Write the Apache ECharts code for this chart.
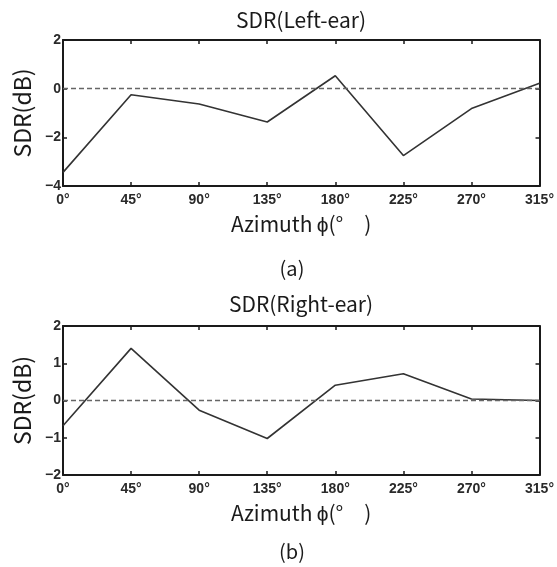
<!DOCTYPE html>
<html>
<head>
<meta charset="utf-8">
<script src="https://cdn.jsdelivr.net/npm/echarts@6/dist/echarts.min.js"></script>
<style>html,body{margin:0;padding:0;background:#fff}#c{width:557px;height:567px}</style>
</head>
<body>
<div id="c"></div>
<script>
var azimuths = [0, 45, 90, 135, 180, 225, 270, 315];
var leftEar = [-3.44, -0.25, -0.63, -1.37, 0.53, -2.75, -0.82, 0.22];
var rightEar = [-0.68, 1.40, -0.26, -1.02, 0.41, 0.72, 0.04, 0.0];
var titles = ['SDR(Left-ear)', 'SDR(Right-ear)'];
var captions = ['(a)', '(b)'];
var xName = 'Azimuth\u2009\u03d5(\u00b0\u2002\u2002)';
var yName = 'SDR(dB)';

var tickFont = 'Liberation Sans, Arial, sans-serif';
var cjk = 'Noto Sans CJK JP, sans-serif';
var lineCol = '#1a1a1a';
var textCol = '#1a1a1a';

function pairs(vals){ return azimuths.map(function(a,i){ return [a, vals[i]]; }); }
function fmtY(v){ return String(v).replace('-', '\u2212'); }

var grids = [
  {left: 63, width: 478, top: 40, height: 146},
  {left: 63, width: 478, top: 326, height: 149}
];
var yRanges = [{min:-4,max:2,interval:2},{min:-2,max:2,interval:1}];

var xAxes = [], yAxes = [], series = [];
grids.forEach(function(g, gi){
  xAxes.push({
    type:'value', gridIndex:gi, min:0, max:315, interval:45, position:'bottom',
    name: xName, nameLocation:'middle', nameGap: 28,
    nameTextStyle:{fontFamily:cjk, fontSize:21, color:textCol},
    axisLine:{onZero:false, lineStyle:{color:lineCol, width:2}},
    axisTick:{inside:true, length:4, lineStyle:{color:lineCol, width:1.5}},
    axisLabel:{fontFamily:tickFont, fontSize:14, fontWeight:'bold', color:'#2a2a2a', margin:7, formatter:function(v){return v+'\u00b0';}},
    splitLine:{show:false}
  });
  xAxes.push({
    type:'value', gridIndex:gi, min:0, max:315, interval:45, position:'top',
    axisLine:{onZero:false, lineStyle:{color:lineCol, width:2}},
    axisTick:{inside:true, length:4, lineStyle:{color:lineCol, width:1.5}},
    axisLabel:{show:false}, splitLine:{show:false}
  });
  var r = yRanges[gi];
  yAxes.push({
    type:'value', gridIndex:gi, min:r.min, max:r.max, interval:r.interval, position:'left',
    name: yName, nameLocation:'middle', nameGap: 23, nameRotate: 90,
    nameTextStyle:{fontFamily:cjk, fontSize:23, color:textCol},
    axisLine:{onZero:false, lineStyle:{color:lineCol, width:2}},
    axisTick:{inside:true, length:4, lineStyle:{color:lineCol, width:1.5}},
    axisLabel:{fontFamily:tickFont, fontSize:14, fontWeight:'bold', color:'#2a2a2a', margin:2, formatter:fmtY},
    splitLine:{show:false}
  });
  yAxes.push({
    type:'value', gridIndex:gi, min:r.min, max:r.max, interval:r.interval, position:'right',
    axisLine:{onZero:false, lineStyle:{color:lineCol, width:2}},
    axisTick:{inside:true, length:4, lineStyle:{color:lineCol, width:1.5}},
    axisLabel:{show:false}, splitLine:{show:false}
  });
  series.push({
    type:'line', xAxisIndex: gi*2, yAxisIndex: gi*2,
    data: pairs(gi===0 ? leftEar : rightEar),
    symbol:'none', lineStyle:{color:'#333', width:1.6}, silent:true, z:3,
    markLine:{
      silent:true, symbol:'none', label:{show:false},
      lineStyle:{type:[5,3], color:'#666', width:1.3},
      data:[{yAxis:0}]
    }
  });
});

function label(text, x, y, size){
  return {type:'text', x:x, y:y, silent:true,
    style:{text:text, textAlign:'center', textVerticalAlign:'middle', fill:textCol,
      font: size + 'px "Noto Sans CJK JP", sans-serif'}};
}

var chart = echarts.init(document.getElementById('c'), null, {renderer:'canvas'});
chart.setOption({
  animation:false,
  backgroundColor:'#fff',
  graphic:[
    label(titles[0], 301, 20, 21),
    label(titles[1], 301, 304, 21),
    label(captions[0], 292, 268, 20),
    label(captions[1], 292, 551, 20)
  ],
  grid: grids,
  xAxis: xAxes,
  yAxis: yAxes,
  series: series
});
</script>
</body>
</html>
